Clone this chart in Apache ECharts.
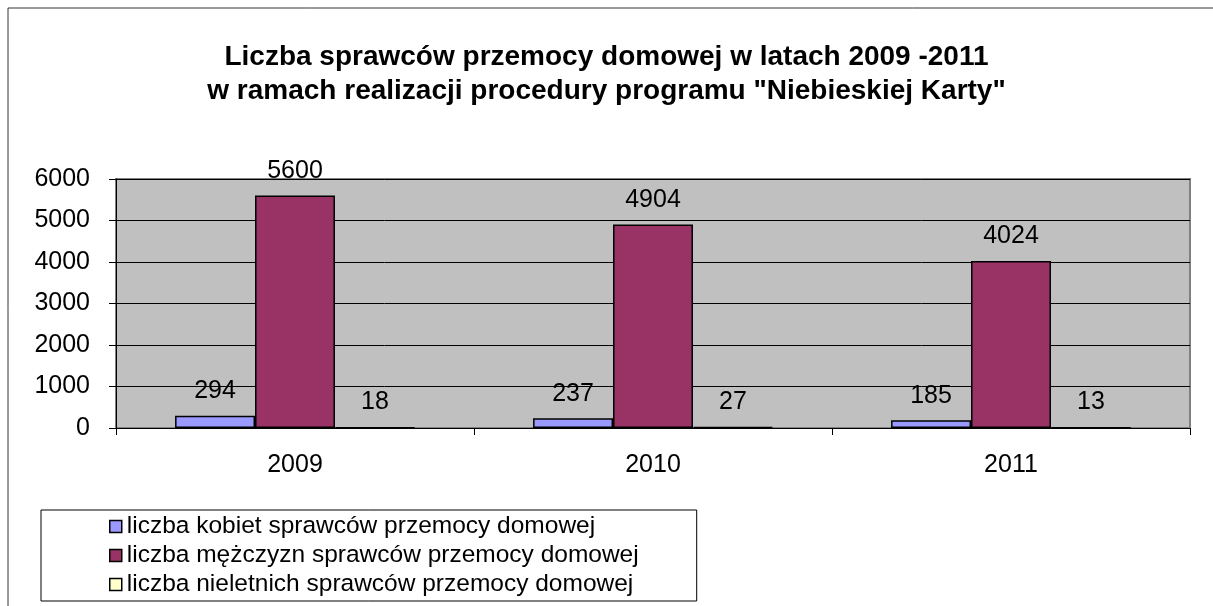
<!DOCTYPE html>
<html>
<head>
<meta charset="utf-8">
<script src="https://cdn.jsdelivr.net/npm/echarts@6/dist/echarts.min.js"></script>
<style>
  html, body { margin: 0; padding: 0; background: #fff; }
  #chart { width: 1213px; height: 606px; }
</style>
</head>
<body>
<div id="chart"></div>
<script>
// dane
const years = ['2009', '2010', '2011']
const seriesNames = [
  'liczba kobiet sprawców przemocy domowej',
  'liczba mężczyzn sprawców przemocy domowej',
  'liczba nieletnich sprawców przemocy domowej'
]
const kobiety = [294, 237, 185]
const mezczyzni = [5600, 4904, 4024]
const nieletni = [18, 27, 13]
const colors = ['#9999FF', '#993366', '#FFFFCC']

const font = '"Liberation Sans", Arial, sans-serif'
const chart = echarts.init(document.getElementById('chart'))

const makeSeries = (name, data, color) => ({
  name: name,
  type: 'bar',
  data: data,
  barGap: 0,
  barCategoryGap: '33%',
  itemStyle: { color: color, borderColor: '#000', borderWidth: 1.5 },
  label: {
    show: true,
    position: 'top',
    distance: 12,
    color: '#000',
    fontFamily: font,
    fontSize: 25
  },
  emphasis: { disabled: true }
})

chart.setOption({
  animation: false,
  textStyle: { fontFamily: font },
  title: {
    text: 'Liczba sprawców przemocy domowej w latach 2009 -2011\nw ramach realizacji procedury programu "Niebieskiej Karty"',
    left: 'center',
    top: 35,
    textStyle: {
      fontFamily: font,
      fontSize: 28,
      fontWeight: 'bold',
      color: '#000',
      lineHeight: 34
    }
  },
  graphic: [{
    type: 'rect',
    shape: { x: 8, y: 8, width: 1300, height: 700 },
    style: { fill: 'none', stroke: '#333', lineWidth: 1 },
    silent: true,
    z: -10
  }],
  legend: {
    orient: 'vertical',
    left: 41,
    top: 510,
    padding: [4, 58, 4, 68],
    itemGap: 4,
    itemWidth: 12,
    itemHeight: 12,
    itemTextGap: 5,
    borderColor: '#000',
    borderWidth: 1,
    icon: 'rect',
    itemStyle: { borderColor: '#000', borderWidth: 1.5 },
    textStyle: { fontFamily: font, fontSize: 24.5, color: '#000', lineHeight: 24 },
    selectedMode: false,
    data: seriesNames
  },
  grid: {
    left: 116,
    right: 23,
    top: 179,
    bottom: 178,
    show: true,
    backgroundColor: '#C0C0C0',
    borderColor: '#808080',
    borderWidth: 2
  },
  xAxis: {
    type: 'category',
    data: years,
    axisLine: { lineStyle: { color: '#000', width: 1 } },
    axisTick: { show: true, length: 7, lineStyle: { color: '#000' } },
    axisLabel: { color: '#000', fontSize: 25, fontFamily: font, margin: 25 }
  },
  yAxis: {
    type: 'value',
    min: 0,
    max: 6000,
    interval: 1000,
    axisLine: { show: true, lineStyle: { color: '#000', width: 1 } },
    axisTick: { show: true, length: 7, lineStyle: { color: '#000' } },
    axisLabel: {
      color: '#000',
      fontSize: 25,
      fontFamily: font,
      margin: 26,
      formatter: (v) => String(v)
    },
    splitLine: { lineStyle: { color: '#000', width: 1 } }
  },
  series: [
    makeSeries(seriesNames[0], kobiety, colors[0]),
    makeSeries(seriesNames[1], mezczyzni, colors[1]),
    makeSeries(seriesNames[2], nieletni, colors[2])
  ]
})
</script>
</body>
</html>
